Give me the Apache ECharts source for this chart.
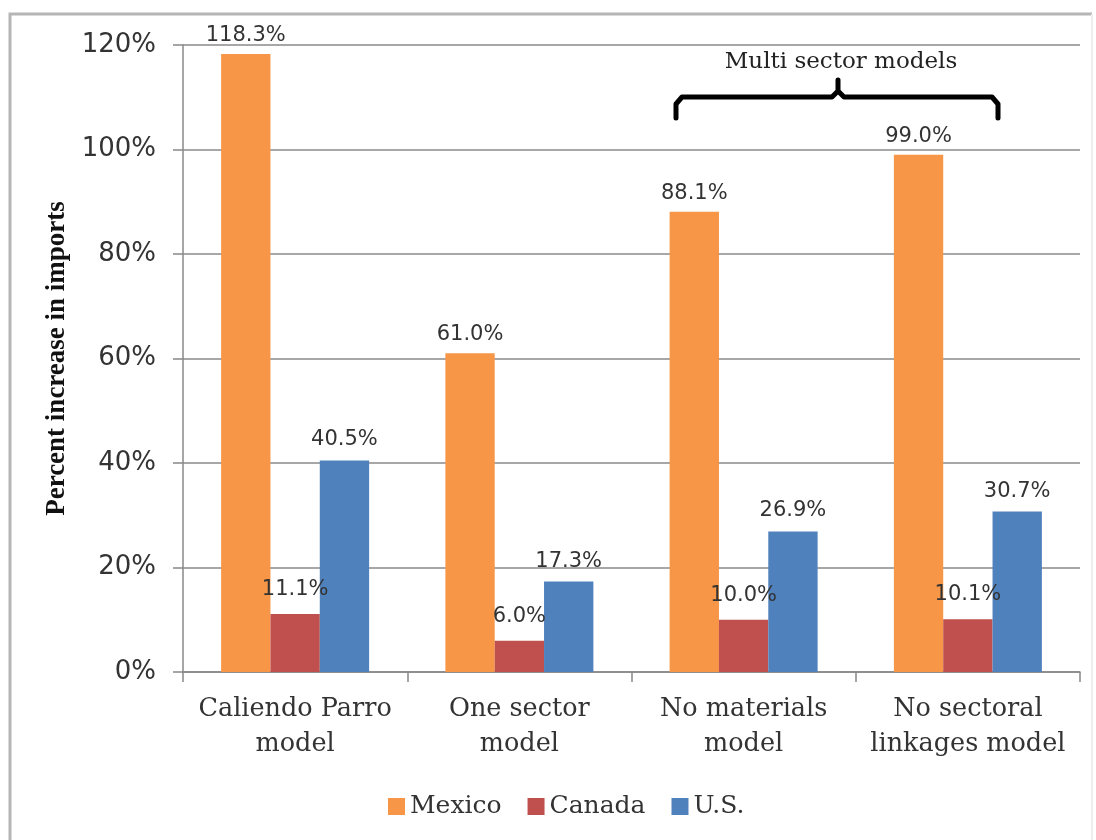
<!DOCTYPE html>
<html>
<head>
<meta charset="utf-8">
<script src="https://cdn.jsdelivr.net/npm/echarts@6/dist/echarts.min.js"></script>
<style>
html,body{margin:0;padding:0;background:#fff;}
#chart{width:1096px;height:840px;}
</style>
</head>
<body>
<div id="chart"></div>
<script>
const categories = ["Caliendo Parro\nmodel", "One sector\nmodel", "No materials\nmodel", "No sectoral\nlinkages model"];
const mexico = [118.3, 61.0, 88.1, 99.0];
const canada = [11.1, 6.0, 10.0, 10.1];
const us = [40.5, 17.3, 26.9, 30.7];
const yTicks = { min: 0, max: 120, interval: 20 };
const axisTitle = "Percent increase in imports";
const bracketText = "Multi sector models";

const chart = echarts.init(document.getElementById('chart'), null, {renderer: 'canvas'});
const serif = '"DejaVu Serif", serif';
const sans = '"DejaVu Sans", sans-serif';
const labelFmt = p => p.value.toFixed(1) + '%';
function mkSeries(name, data, color, dist) {
  return {
    name, type: 'bar', data, barGap: '0%', barCategoryGap: '34%',
    itemStyle: { color },
    label: { show: true, position: 'top', distance: dist, formatter: labelFmt,
      fontFamily: sans, fontSize: 21, color: '#333' }
  };
}
const option = {
  backgroundColor: '#fff',
  animation: false,
  grid: { left: 183, right: 16, top: 45, bottom: 168, containLabel: false },
  legend: {
    left: 383, top: 789, itemWidth: 17, itemHeight: 17, itemGap: 26,
    icon: 'rect',
    textStyle: { fontFamily: serif, fontSize: 25, color: '#333' },
    data: ['Mexico', 'Canada', 'U.S.']
  },
  xAxis: {
    type: 'category', data: categories,
    axisLine: { lineStyle: { color: '#888', width: 1.5 } },
    axisTick: { show: true, length: 10, lineStyle: { color: '#888', width: 1.5 } },
    axisLabel: { interval: 0, fontFamily: serif, fontSize: 25.5, color: '#333', lineHeight: 35, margin: 20 }
  },
  yAxis: {
    type: 'value', min: yTicks.min, max: yTicks.max, interval: yTicks.interval,
    name: axisTitle, nameLocation: 'middle', nameGap: 108, nameRotate: 90,
    nameTextStyle: { fontFamily: '"Liberation Serif", serif', fontWeight: 'bold', fontSize: 27, color: '#111' },
    axisLine: { show: true, lineStyle: { color: '#888', width: 1.5 } },
    axisTick: { show: true, length: 10, lineStyle: { color: '#888', width: 1.5 } },
    splitLine: { lineStyle: { color: '#8a8a8a', width: 1.5 } },
    axisLabel: { formatter: '{value}%', fontFamily: sans, fontSize: 26, color: '#333', margin: 27 }
  },
  series: [
    mkSeries('Mexico', mexico, '#F79646', 8),
    mkSeries('Canada', canada, '#C0504D', 14),
    mkSeries('U.S.', us, '#4F81BD', 10)
  ],
  graphic: [
    { type: 'polyline', shape: { points: [[10, 850], [10, 14], [1092, 14]] }, style: { fill: null, stroke: '#b5b5b5', lineWidth: 3 }, silent: true, z: -1 },
    { type: 'line', shape: { x1: 1092, y1: 14, x2: 1092, y2: 850 }, style: { stroke: '#eee', lineWidth: 2 }, silent: true, z: -1 },
    { type: 'text', x: 841, y: 62, style: { text: bracketText, fontFamily: serif, fontSize: 23, fill: '#222', align: 'center', verticalAlign: 'middle' } },
    { type: 'polyline', shape: { points: [[676, 118], [676, 104], [682, 97], [832, 97], [838, 91], [838, 80], [838, 91], [844, 97], [992, 97], [998, 104], [998, 118]] },
      style: { stroke: '#000', lineWidth: 5, fill: null, lineJoin: 'round', lineCap: 'round' } }
  ]
};
chart.setOption(option);
</script>
</body>
</html>
